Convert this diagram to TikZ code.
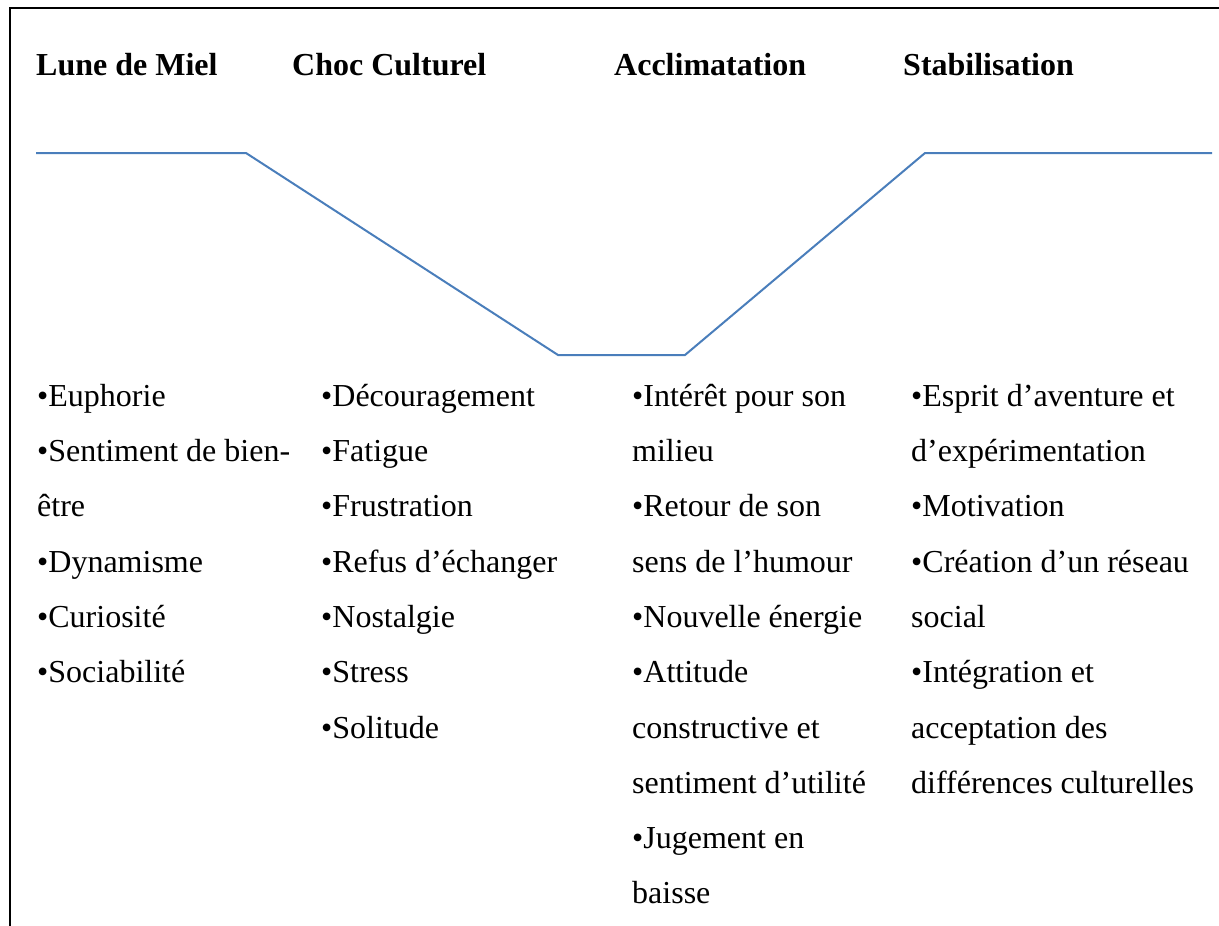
\documentclass[tikz,border=0pt]{standalone}
\usepackage{fontspec}
\setmainfont{Liberation Serif}
\usepackage{tikz}
\usetikzlibrary{positioning}
\definecolor{curveblue}{HTML}{4A7EBB}

\begin{document}
\begin{tikzpicture}[
  x=1pt, y=-1pt,
  head/.style={anchor=base west, inner sep=0pt, font=\fontsize{32}{38}\selectfont\bfseries},
  items/.style={anchor=north west, inner sep=0pt, align=left, font=\fontsize{32}{55.3}\selectfont},
  curve/.style={draw=curveblue, line width=2pt},
  frame/.style={draw=black, line width=2.6pt}
]
\useasboundingbox (0,0) rectangle (1219,926);

% frame
\coordinate (topleft) at (10,8);
\coordinate (topright) at (1219,8);
\coordinate (botleft) at (10,926);
\draw[frame] (topright) -- (topleft) -- (botleft);

% phase titles
\node[head] (lune) at (36,75) {Lune de Miel};
\node[head] (choc) at (292,75) {Choc Culturel};
\node[head] (accl) at (614,75) {Acclimatation};
\node[head] (stab) at (903,75) {Stabilisation};

% curve
\coordinate (c1) at (36,153);
\coordinate (c2) at (246,153);
\coordinate (c3) at (558,355);
\coordinate (c4) at (685,355);
\coordinate (c5) at (925,153);
\coordinate (c6) at (1212,153);
\draw[curve] (c1) -- (c2) -- (c3) -- (c4) -- (c5) -- (c6);

% feelings (strut in first line so the top is one strut above the baseline)
\node[items] (lunelist) at (37,367.3) {\strut•Euphorie\\•Sentiment de bien-\\être\\•Dynamisme\\•Curiosité\\•Sociabilité};
\node[items] (choclist) at (321,367.3) {\strut•Découragement\\•Fatigue\\•Frustration\\•Refus d’échanger\\•Nostalgie\\•Stress\\•Solitude};
\node[items] (accllist) at (632,367.3) {\strut•Intérêt pour son\\milieu\\•Retour de son\\sens de l’humour\\•Nouvelle énergie\\•Attitude\\constructive et\\sentiment d’utilité\\•Jugement en\\baisse};
\node[items] (stablist) at (911,367.3) {\strut•Esprit d’aventure et\\d’expérimentation\\•Motivation\\•Création d’un réseau\\social\\•Intégration et\\acceptation des\\différences culturelles};
\end{tikzpicture}
\end{document}
